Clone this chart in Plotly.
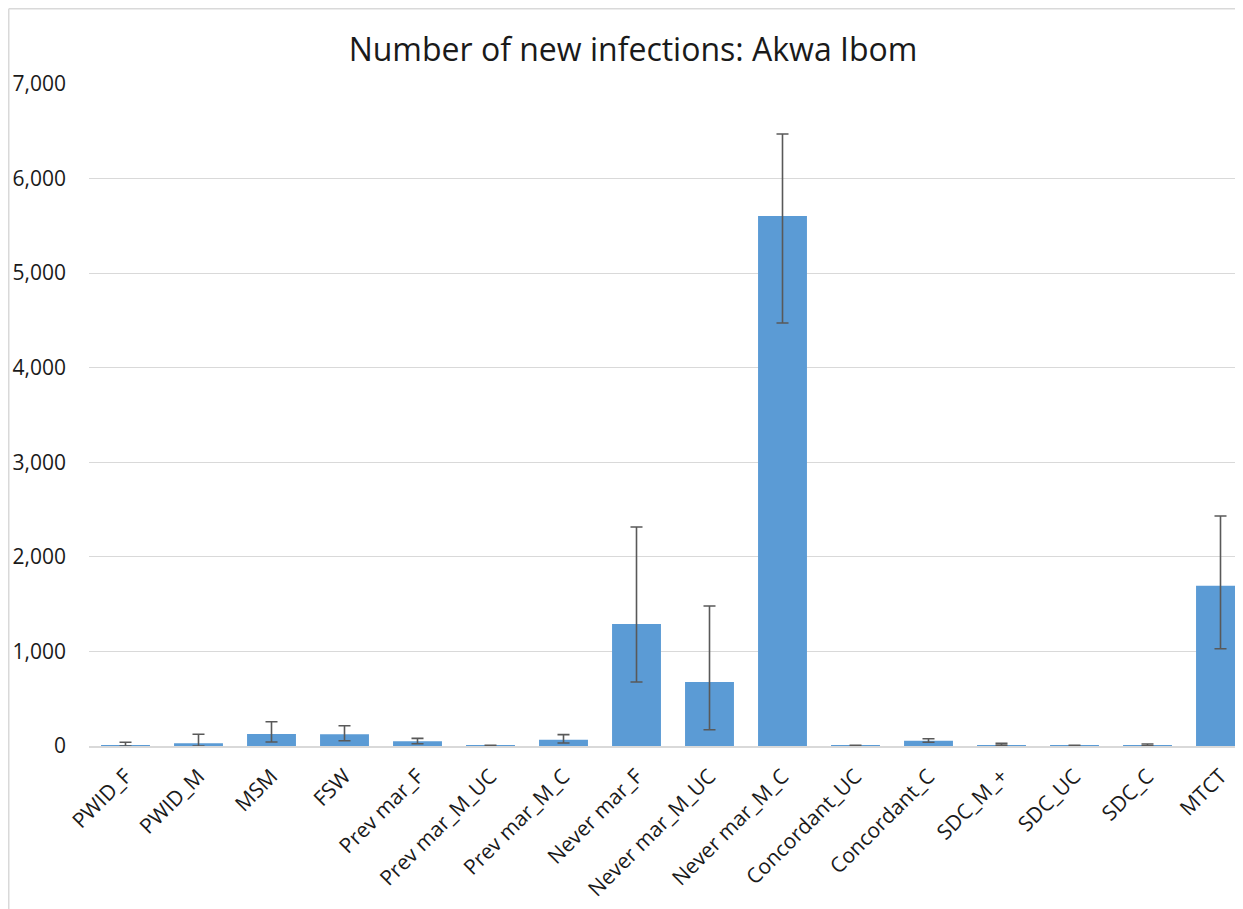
import plotly.graph_objects as go

categories = ["PWID_F", "PWID_M", "MSM", "FSW", "Prev mar_F", "Prev mar_M_UC",
              "Prev mar_M_C", "Never mar_F", "Never mar_M_UC", "Never mar_M_C",
              "Concordant_UC", "Concordant_C", "SDC_M_+", "SDC_UC", "SDC_C", "MTCT"]
values = [5, 28, 127, 125, 50, 3, 67, 1290, 677, 5604, 3, 56, 10, 3, 8, 1695]
upper = [40, 125, 257, 214, 81, 8, 120, 2316, 1480, 6471, 8, 77, 28, 8, 21, 2432]
lower = [0, 0, 42, 56, 24, 1, 32, 677, 172, 4473, 1, 39, 7, 1, 2, 1029]

err_plus = [u - v for u, v in zip(upper, values)]
err_minus = [v - l for v, l in zip(values, lower)]

# page body has an 8px margin, so the figure starts at (8, 8) on screen
W, H = 1235, 901
ML, MR, MT, MB = 81, 0, 76, 163

fig = go.Figure()
fig.add_trace(go.Bar(
    x=list(range(len(categories))), y=values,
    marker=dict(color="#5B9BD5", line=dict(width=0)),
    error_y=dict(type="data", symmetric=False, array=err_plus, arrayminus=err_minus,
                 color="#595959", thickness=1.6, width=6),
))

pw = W - ML - MR
ph = H - MT - MB
bx0 = (0.75 - ML) / pw
by1 = 1 + (MT - 0.75) / ph
by0 = -MB / ph

fig.update_layout(
    width=W, height=H,
    margin=dict(l=ML, r=MR, t=MT, b=MB, pad=0),
    paper_bgcolor="white", plot_bgcolor="white",
    bargap=0.33,
    showlegend=False,
    font=dict(family="Open Sans", color="#1a1a1a"),
    title=dict(text="Number of new infections: Akwa Ibom", x=(633 - 8) / W, xanchor="center",
               y=1 - 42 / H, yanchor="middle",
               font=dict(family="Open Sans", size=32, color="#1a1a1a")),
    xaxis=dict(
        tickmode="array", tickvals=list(range(len(categories))), ticktext=categories,
        range=[-0.5, -0.5 + pw / 73.0], tickangle=-45,
        tickfont=dict(size=21, color="#1a1a1a"),
        showgrid=False, zeroline=False,
        showline=True, linecolor="#d9d9d9", linewidth=1.5,
        ticks="", ticklabelstandoff=8,
    ),
    yaxis=dict(
        range=[0, 7000], dtick=1000, tickformat=",d",
        tickfont=dict(size=21, color="#1a1a1a"),
        showgrid=True, gridcolor="#d9d9d9", gridwidth=1.2,
        zeroline=False, showline=False, ticks="", ticklabelstandoff=22,
    ),
    shapes=[
        dict(type="line", xref="paper", yref="paper", x0=bx0, x1=1.01, y0=by1, y1=by1,
             line=dict(color="#d9d9d9", width=1.5)),
        dict(type="line", xref="paper", yref="paper", x0=bx0, x1=bx0, y0=by0, y1=by1,
             line=dict(color="#d9d9d9", width=1.5)),
    ],
)

fig.write_html("out.html")
